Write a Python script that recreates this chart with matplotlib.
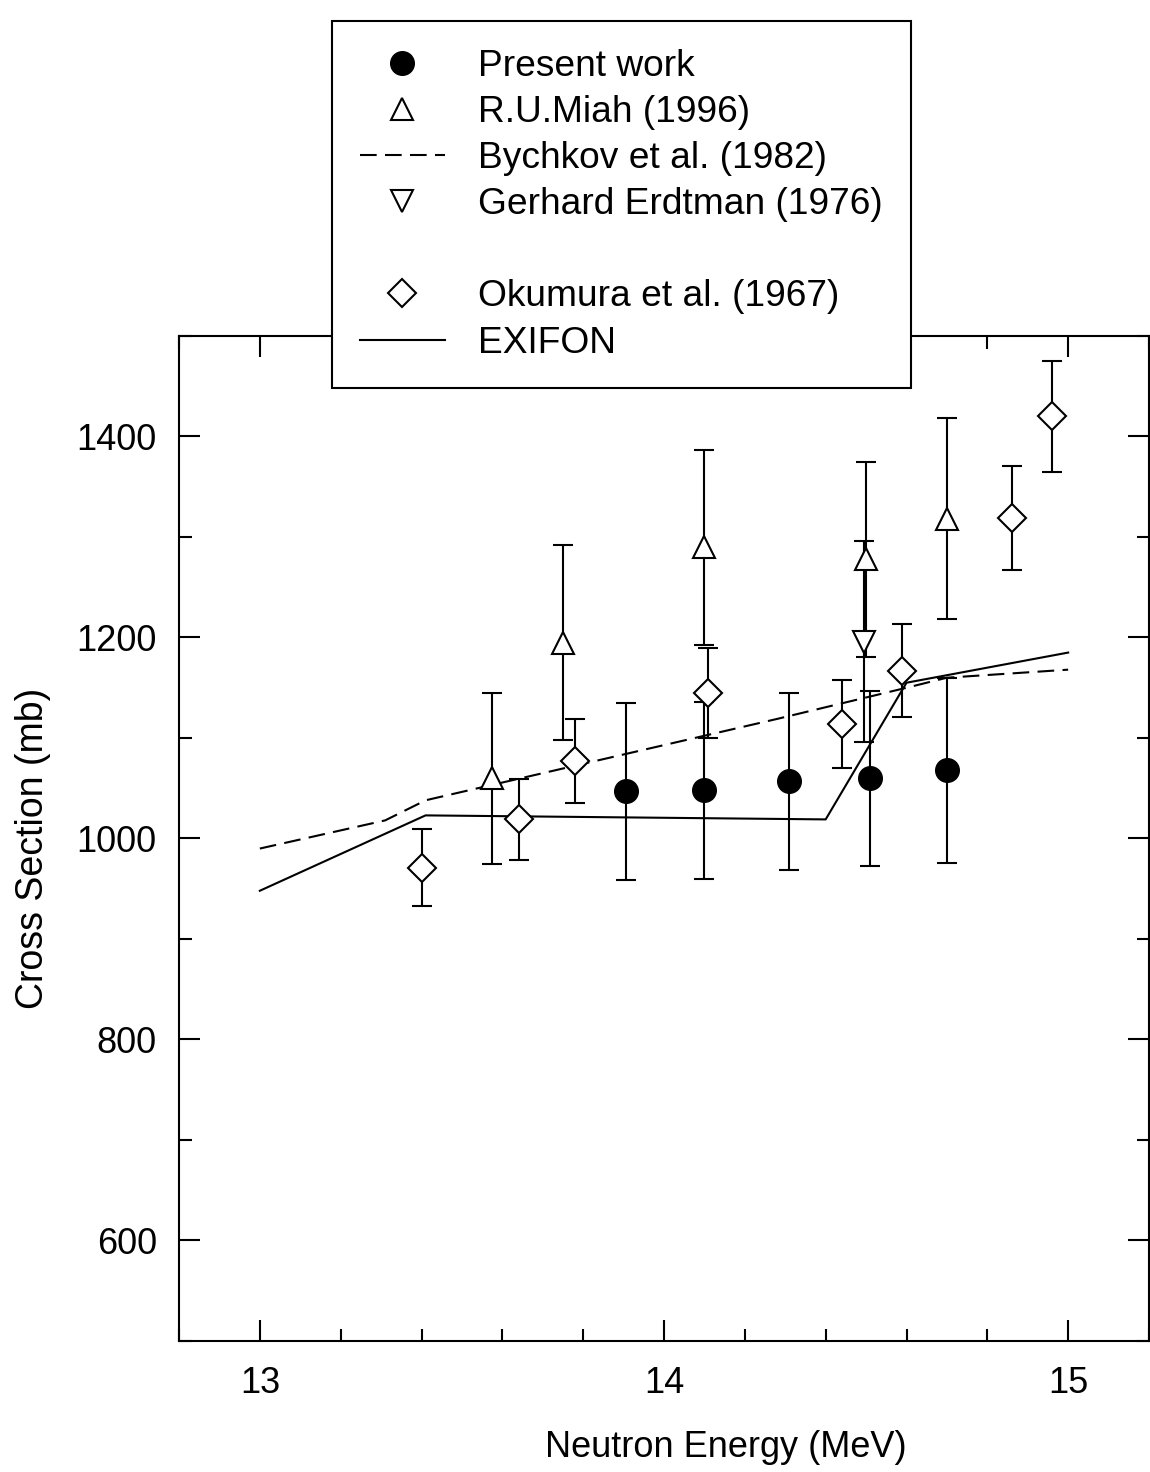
import matplotlib
matplotlib.use("Agg")
import matplotlib.pyplot as plt
from matplotlib.lines import Line2D
from matplotlib.ticker import MultipleLocator

plt.rcParams["font.family"] = ["Liberation Sans", "DejaVu Sans"]

# Present work
pw_e = [13.905, 14.10, 14.31, 14.51, 14.70]
pw_xs = [1047, 1048, 1057, 1060, 1068]
pw_err = [88, 88, 88, 87, 92]

# R.U.Miah (1996)
miah_e = [13.575, 13.75, 14.10, 14.50, 14.70]
miah_xs = [1060, 1195, 1290, 1278, 1318]
miah_err = [85, 97, 97, 97, 100]

# Gerhard Erdtman (1976)
erd_e = [14.495]
erd_xs = [1196]
erd_err = [100]

# Okumura et al. (1967)
oku_e = [13.40, 13.64, 13.78, 14.11, 14.44, 14.59, 14.86, 14.96]
oku_xs = [971, 1019, 1077, 1145, 1114, 1167, 1319, 1420]
oku_err = [38, 40, 42, 45, 44, 46, 52, 55]

# Bychkov et al. (1982)
byc_e = [13.0, 13.31, 13.41, 14.28, 14.60, 14.70, 15.0]
byc_xs = [990, 1018, 1038, 1119, 1150, 1160, 1168]

# EXIFON
exi_e = [13.0, 13.41, 14.40, 14.60, 15.0]
exi_xs = [948, 1023, 1019, 1155, 1185]

legend_labels = ["Present work", "R.U.Miah (1996)", "Bychkov et al. (1982)",
                 "Gerhard Erdtman (1976)", " ", "Okumura et al. (1967)", "EXIFON"]

fig = plt.figure(figsize=(11.5, 14.72), dpi=100)
ax = fig.add_axes([179 / 1150, 1 - 1341 / 1472, 970 / 1150, 1005 / 1472])

lw = 1.5
ax.plot(byc_e, byc_xs, color="black", lw=lw, dashes=(8, 4), zorder=2)
ax.plot(exi_e, exi_xs, color="black", lw=lw, zorder=2)

common = dict(color="black", ecolor="black", elinewidth=lw, capsize=7,
              capthick=lw, linestyle="none", zorder=3)
ax.errorbar(pw_e, pw_xs, yerr=pw_err, fmt="o", ms=17, mfc="black",
            mec="black", **common)
ax.errorbar(miah_e, miah_xs, yerr=miah_err, fmt="^", ms=16, mfc="white",
            mec="black", mew=lw, **common)
ax.errorbar(erd_e, erd_xs, yerr=erd_err, fmt="v", ms=16, mfc="white",
            mec="black", mew=lw, **common)
ax.errorbar(oku_e, oku_xs, yerr=oku_err, fmt="D", ms=14.5, mfc="white",
            mec="black", mew=lw, **common)

ax.set_xlim(12.8, 15.2)
ax.set_ylim(500, 1500)
ax.xaxis.set_major_locator(MultipleLocator(1))
ax.xaxis.set_minor_locator(MultipleLocator(0.2))
ax.yaxis.set_major_locator(MultipleLocator(200))
ax.yaxis.set_minor_locator(MultipleLocator(100))
ax.set_yticks([600, 800, 1000, 1200, 1400])
ax.tick_params(which="both", direction="in", top=True, right=True, width=lw,
               labelsize=26)
ax.tick_params(which="major", length=15)
ax.tick_params(which="minor", length=9)
ax.tick_params(axis="x", pad=18)
ax.tick_params(axis="y", pad=16)
for s in ax.spines.values():
    s.set_linewidth(lw)

ax.set_xlabel("Neutron Energy (MeV)", fontsize=26)
ax.xaxis.set_label_coords(0.564, -0.089)
ax.set_ylabel("Cross Section (mb)", fontsize=27)
ax.yaxis.set_label_coords(-0.132, 0.49)

handles = [
    Line2D([], [], color="black", marker="o", ms=17, ls="none"),
    Line2D([], [], color="black", marker="^", ms=16, mfc="white", mew=lw, ls="none"),
    Line2D([], [], color="black", lw=lw, dashes=(8, 4)),
    Line2D([], [], color="black", marker="v", ms=16, mfc="white", mew=lw, ls="none"),
    Line2D([], [], ls="none"),
    Line2D([], [], color="black", marker="D", ms=14.5, mfc="white", mew=lw, ls="none"),
    Line2D([], [], color="black", lw=lw),
]
leg = fig.legend(handles, legend_labels, loc="upper left",
                 bbox_to_anchor=(332 / 1150, 1 - 21 / 1472), fontsize=26.7,
                 frameon=True, fancybox=False, framealpha=1, edgecolor="black",
                 handlelength=2.3, handletextpad=0.9, labelspacing=0.3,
                 borderpad=0.75, borderaxespad=0)
leg.get_frame().set_linewidth(lw)

fig.savefig("out.png", dpi=100)
